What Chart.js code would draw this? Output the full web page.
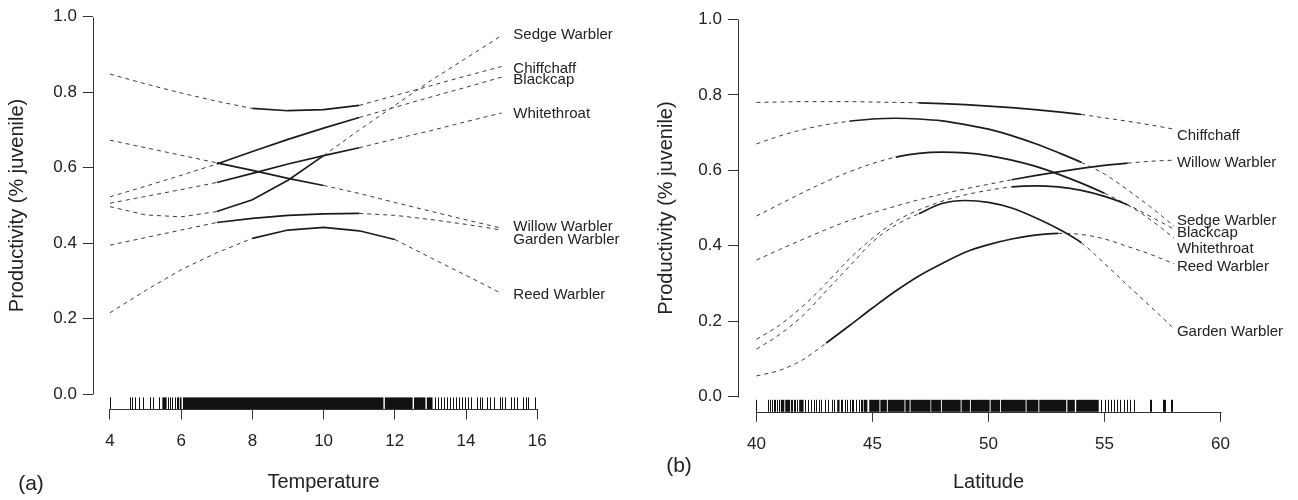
<!DOCTYPE html>
<html>
<head>
<meta charset="utf-8">
<script src="https://cdn.jsdelivr.net/npm/chart.js@4.4.0/dist/chart.umd.min.js"></script>
<style>
  body { margin: 0; background: #fff; }
  .wrap { display: flex; width: 1298px; height: 500px; }
  .panel { width: 649px; height: 500px; }
</style>
</head>
<body>
<div class="wrap">
  <div class="panel"><canvas id="tempChart" width="649" height="500"></canvas></div>
  <div class="panel"><canvas id="latChart" width="649" height="500"></canvas></div>
</div>
<script>
// ---- data ----
const speciesNames = ['Sedge Warbler', 'Chiffchaff', 'Blackcap', 'Whitethroat', 'Willow Warbler', 'Garden Warbler', 'Reed Warbler'];
const probTicks = [0, 0.2, 0.4, 0.6, 0.8, 1.0];

// (a) temperature
const tempTicks = [4, 6, 8, 10, 12, 14, 16];
const tempSteps = [4, 5, 6, 7, 8, 9, 10, 11, 12, 13, 14, 15];
const tempSedge       = [0.497, 0.475, 0.470, 0.484, 0.515, 0.567, 0.632, 0.700, 0.765, 0.830, 0.890, 0.950];
const tempChiffchaff  = [0.848, 0.822, 0.798, 0.776, 0.757, 0.751, 0.754, 0.765, 0.791, 0.817, 0.843, 0.868];
const tempBlackcap    = [0.523, 0.551, 0.580, 0.610, 0.643, 0.675, 0.705, 0.733, 0.760, 0.787, 0.813, 0.840];
const tempWhitethroat = [0.506, 0.524, 0.542, 0.561, 0.585, 0.610, 0.632, 0.653, 0.676, 0.698, 0.722, 0.745];
const tempWillow      = [0.673, 0.653, 0.633, 0.613, 0.593, 0.572, 0.553, 0.532, 0.508, 0.485, 0.462, 0.440];
const tempGarden      = [0.395, 0.415, 0.435, 0.455, 0.466, 0.474, 0.478, 0.479, 0.474, 0.463, 0.450, 0.435];
const tempReed        = [0.216, 0.275, 0.330, 0.375, 0.413, 0.435, 0.442, 0.433, 0.410, 0.362, 0.315, 0.267];
const tempObsFrom = [7, 8, 7, 7, 7, 7, 8];     // solid part = observed range
const tempObsTo   = [10, 11, 11, 11, 10, 11, 12];
const tempLabelY  = [0.951, 0.863, 0.832, 0.742, 0.443, 0.410, 0.263];
const tempRugSingles = [4.0, 4.56, 4.61, 4.7, 4.82, 4.94, 5.12, 5.22, 5.39, 5.64, 5.69, 5.73, 5.84, 5.88, 5.92,
  13.13, 13.22, 13.3, 13.38, 13.47, 13.55, 13.64, 13.72, 13.8, 13.9, 13.98, 14.06, 14.15, 14.3, 14.38, 14.45,
  14.6, 14.68, 14.8, 14.95, 15.02, 15.1, 15.27, 15.35, 15.42, 15.6, 15.68, 15.75, 15.95];
const tempRugBlocks = [[5.47, 5.59], [5.96, 6.01], [6.05, 11.68], [11.72, 12.5], [12.54, 12.86], [12.9, 13.06]];

// (b) latitude
const latTicks = [40, 45, 50, 55, 60];
const latSteps = [40, 41, 42, 43, 44, 45, 46, 47, 48, 49, 50, 51, 52, 53, 54, 55, 56, 57, 58];
const latSedge       = [0.670, 0.691, 0.708, 0.721, 0.730, 0.736, 0.738, 0.736, 0.731, 0.721, 0.709, 0.692, 0.671, 0.647, 0.621, 0.590, 0.548, 0.502, 0.452];
const latChiffchaff  = [0.780, 0.781, 0.782, 0.782, 0.782, 0.781, 0.780, 0.779, 0.777, 0.774, 0.770, 0.766, 0.761, 0.755, 0.748, 0.739, 0.730, 0.720, 0.709];
const latBlackcap    = [0.479, 0.510, 0.541, 0.570, 0.596, 0.618, 0.635, 0.645, 0.648, 0.646, 0.639, 0.627, 0.611, 0.590, 0.566, 0.539, 0.509, 0.477, 0.444];
const latWhitethroat = [0.152, 0.190, 0.240, 0.300, 0.365, 0.420, 0.465, 0.495, 0.518, 0.535, 0.547, 0.556, 0.559, 0.556, 0.547, 0.531, 0.508, 0.468, 0.420];
const latWillow      = [0.362, 0.390, 0.417, 0.443, 0.467, 0.487, 0.505, 0.522, 0.537, 0.551, 0.563, 0.575, 0.586, 0.596, 0.605, 0.613, 0.619, 0.624, 0.627];
const latGarden      = [0.126, 0.165, 0.215, 0.280, 0.345, 0.410, 0.455, 0.485, 0.512, 0.520, 0.515, 0.500, 0.475, 0.445, 0.408, 0.353, 0.295, 0.238, 0.180];
const latReed        = [0.055, 0.070, 0.098, 0.142, 0.188, 0.235, 0.280, 0.320, 0.353, 0.383, 0.403, 0.418, 0.428, 0.433, 0.430, 0.418, 0.398, 0.377, 0.352];
const latObsFrom = [44, 47, 46, 51, 51, 47, 43];
const latObsTo   = [54, 54, 55, 56, 56, 54, 53];
const latLabelY  = [0.466, 0.691, 0.433, 0.393, 0.621, 0.172, 0.343];
const latRugSingles = [40.0, 40.5, 40.58, 40.66, 40.74, 40.8, 40.88, 40.95, 41.5, 41.55, 41.62, 41.68, 41.75, 42.1,
  42.22, 42.36, 42.5, 42.58, 42.7, 42.8, 42.95, 43.1, 43.24, 43.35, 43.63, 43.7, 43.8, 43.9, 44.03, 44.1, 44.18,
  44.3, 44.4, 44.5, 44.56, 54.85, 55.0, 55.15, 55.28, 55.42, 55.55, 55.68, 55.82, 55.95, 56.1, 56.25, 56.95, 57.0,
  57.5, 57.56, 57.62, 57.85, 57.9];
const latRugBlocks = [[41.05, 41.2], [41.24, 41.45], [41.84, 42.03], [43.48, 43.58], [44.62, 44.78], [44.86, 45.3],
  [45.34, 45.62], [45.66, 46.38], [46.42, 46.6], [46.64, 47.5], [47.53, 47.95], [47.99, 48.8], [48.84, 49.2],
  [49.24, 50.05], [50.09, 50.5], [50.54, 51.6], [51.64, 52.15], [52.19, 53.35], [53.4, 53.72], [53.78, 54.75]];

// ---- styling ----
const FONT = "'Liberation Sans', Arial, Helvetica, sans-serif";
const INK = '#222';
Chart.defaults.font.family = FONT;
Chart.defaults.color = INK;

function inObs(c, lo, hi) {
    return c.p0.parsed.x >= lo - 1e-9 && c.p1.parsed.x <= hi + 1e-9;
}

function buildSets(xs, series, from, to, smooth) {
    return series.map((vals, i) => ({
        data: xs.map((x, j) => ({ x: x, y: vals[j] })),
        borderColor: '#1c1c1c',
        borderWidth: 1.7,
        pointRadius: 0,
        tension: 0,
        cubicInterpolationMode: smooth ? 'monotone' : 'default',
        fill: false,
        segment: {
            borderDash: c => inObs(c, from[i], to[i]) ? undefined : [4, 4],
            borderWidth: c => inObs(c, from[i], to[i]) ? 1.7 : 1,
            borderColor: c => inObs(c, from[i], to[i]) ? '#1c1c1c' : '#3a3a3a'
        }
    }));
}

// rug along the bottom of the plot region
const rugPlugin = {
    id: 'rug',
    afterDatasetsDraw(chart, args, o) {
        const { ctx, chartArea, scales: { x } } = chart;
        const base = chartArea.bottom;
        const h = 12;
        ctx.save();
        ctx.strokeStyle = '#111';
        ctx.fillStyle = '#111';
        ctx.lineWidth = 1;
        o.singles.forEach(v => {
            const px = Math.round(x.getPixelForValue(v)) + 0.5;
            ctx.beginPath();
            ctx.moveTo(px, base);
            ctx.lineTo(px, base - h);
            ctx.stroke();
        });
        o.blocks.forEach(([a, b]) => {
            const p0 = x.getPixelForValue(a);
            const p1 = x.getPixelForValue(b);
            ctx.fillRect(p0, base - h, p1 - p0, h);
        });
        ctx.restore();
    }
};

// R style axis lines: only from first to last tick
const axisLines = {
    id: 'axisLines',
    afterDraw(chart, args, o) {
        const { ctx, chartArea: a, scales: { x, y } } = chart;
        const bx = Math.round(a.left) + 0.5;
        const by = Math.round(a.bottom) + 0.5;
        ctx.save();
        ctx.strokeStyle = '#333';
        ctx.lineWidth = 1;
        ctx.beginPath();
        ctx.moveTo(Math.round(x.getPixelForValue(o.xTicks[0])) + 0.5, by);
        ctx.lineTo(Math.round(x.getPixelForValue(o.xTicks[o.xTicks.length - 1])) + 0.5, by);
        ctx.moveTo(bx, Math.round(y.getPixelForValue(o.yTicks[0])) + 0.5);
        ctx.lineTo(bx, Math.round(y.getPixelForValue(o.yTicks[o.yTicks.length - 1])) + 0.5);
        ctx.stroke();
        ctx.restore();
    }
};

// species names at the right end + panel letter
const speciesLabels = {
    id: 'speciesLabels',
    afterDraw(chart, args, o) {
        const { ctx, scales: { x, y } } = chart;
        ctx.save();
        ctx.font = '15px ' + FONT;
        ctx.fillStyle = INK;
        ctx.textBaseline = 'middle';
        ctx.textAlign = 'left';
        o.names.forEach((n, i) => {
            ctx.fillText(n, x.getPixelForValue(o.at), y.getPixelForValue(o.ys[i]));
        });
        ctx.font = '21px ' + FONT;
        ctx.textAlign = 'center';
        ctx.fillText(o.tag, o.tagX, o.tagY);
        ctx.restore();
    }
};

function makeChart(id, cfg) {
    const gridOpts = { drawOnChartArea: false, drawTicks: true, tickLength: 10, color: '#333', tickColor: '#333' };
    return new Chart(document.getElementById(id), {
        type: 'line',
        data: { datasets: cfg.datasets },
        plugins: [rugPlugin, axisLines, speciesLabels],
        options: {
            responsive: false,
            animation: false,
            devicePixelRatio: 1,
            layout: { padding: cfg.padding },
            plugins: {
                legend: { display: false },
                tooltip: { enabled: false },
                rug: { singles: cfg.rugSingles, blocks: cfg.rugBlocks },
                axisLines: { xTicks: cfg.xTicks, yTicks: probTicks },
                speciesLabels: { names: speciesNames, at: cfg.labelAt, ys: cfg.labelYs, tag: cfg.tag, tagX: cfg.tagX, tagY: cfg.tagY }
            },
            scales: {
                x: {
                    type: 'linear',
                    min: cfg.xMin,
                    max: cfg.xMax,
                    afterBuildTicks: s => { s.ticks = cfg.xTicks.map(v => ({ value: v })); },
                    afterFit: s => { s.height = cfg.xHeight; s.paddingLeft = 0; s.paddingRight = 0; },
                    grid: gridOpts,
                    border: { display: false },
                    ticks: { padding: 12, font: { size: 17 }, color: INK, maxRotation: 0, autoSkip: false },
                    title: { display: true, text: cfg.xTitle, font: { size: 20 }, color: INK, padding: { top: 0, bottom: 6 } }
                },
                y: {
                    type: 'linear',
                    min: -0.04,
                    max: 1.04,
                    afterBuildTicks: s => { s.ticks = probTicks.map(v => ({ value: v })); },
                    afterFit: s => { s.width = cfg.yWidth; s.paddingTop = 0; s.paddingBottom = 0; },
                    grid: gridOpts,
                    border: { display: false },
                    ticks: { padding: 6, font: { size: 17 }, color: INK, callback: v => Number(v).toFixed(1) },
                    title: { display: true, text: 'Productivity (% juvenile)', font: { size: 20 }, color: INK, padding: { top: 5, bottom: 0 } }
                }
            }
        }
    });
}

makeChart('tempChart', {
    datasets: buildSets(tempSteps,
        [tempSedge, tempChiffchaff, tempBlackcap, tempWhitethroat, tempWillow, tempGarden, tempReed],
        tempObsFrom, tempObsTo, false),
    padding: { left: 0, right: 94.7, top: 1.6, bottom: 0 },
    xMin: 3.52, xMax: 16.48, xTicks: tempTicks,
    xHeight: 90.6, yWidth: 92.9,
    xTitle: 'Temperature',
    rugSingles: tempRugSingles, rugBlocks: tempRugBlocks,
    labelAt: 15.33, labelYs: tempLabelY,
    tag: '(a)', tagX: 31, tagY: 484
});

makeChart('latChart', {
    datasets: buildSets(latSteps,
        [latSedge, latChiffchaff, latBlackcap, latWhitethroat, latWillow, latGarden, latReed],
        latObsFrom, latObsTo, true),
    padding: { left: 0, right: 58.9, top: 4.3, bottom: 0 },
    xMin: 39.2, xMax: 60.8, xTicks: latTicks,
    xHeight: 88.2, yWidth: 88.9,
    xTitle: 'Latitude',
    rugSingles: latRugSingles, rugBlocks: latRugBlocks,
    labelAt: 58.12, labelYs: latLabelY,
    tag: '(b)', tagX: 30, tagY: 466
});
</script>
</body>
</html>
